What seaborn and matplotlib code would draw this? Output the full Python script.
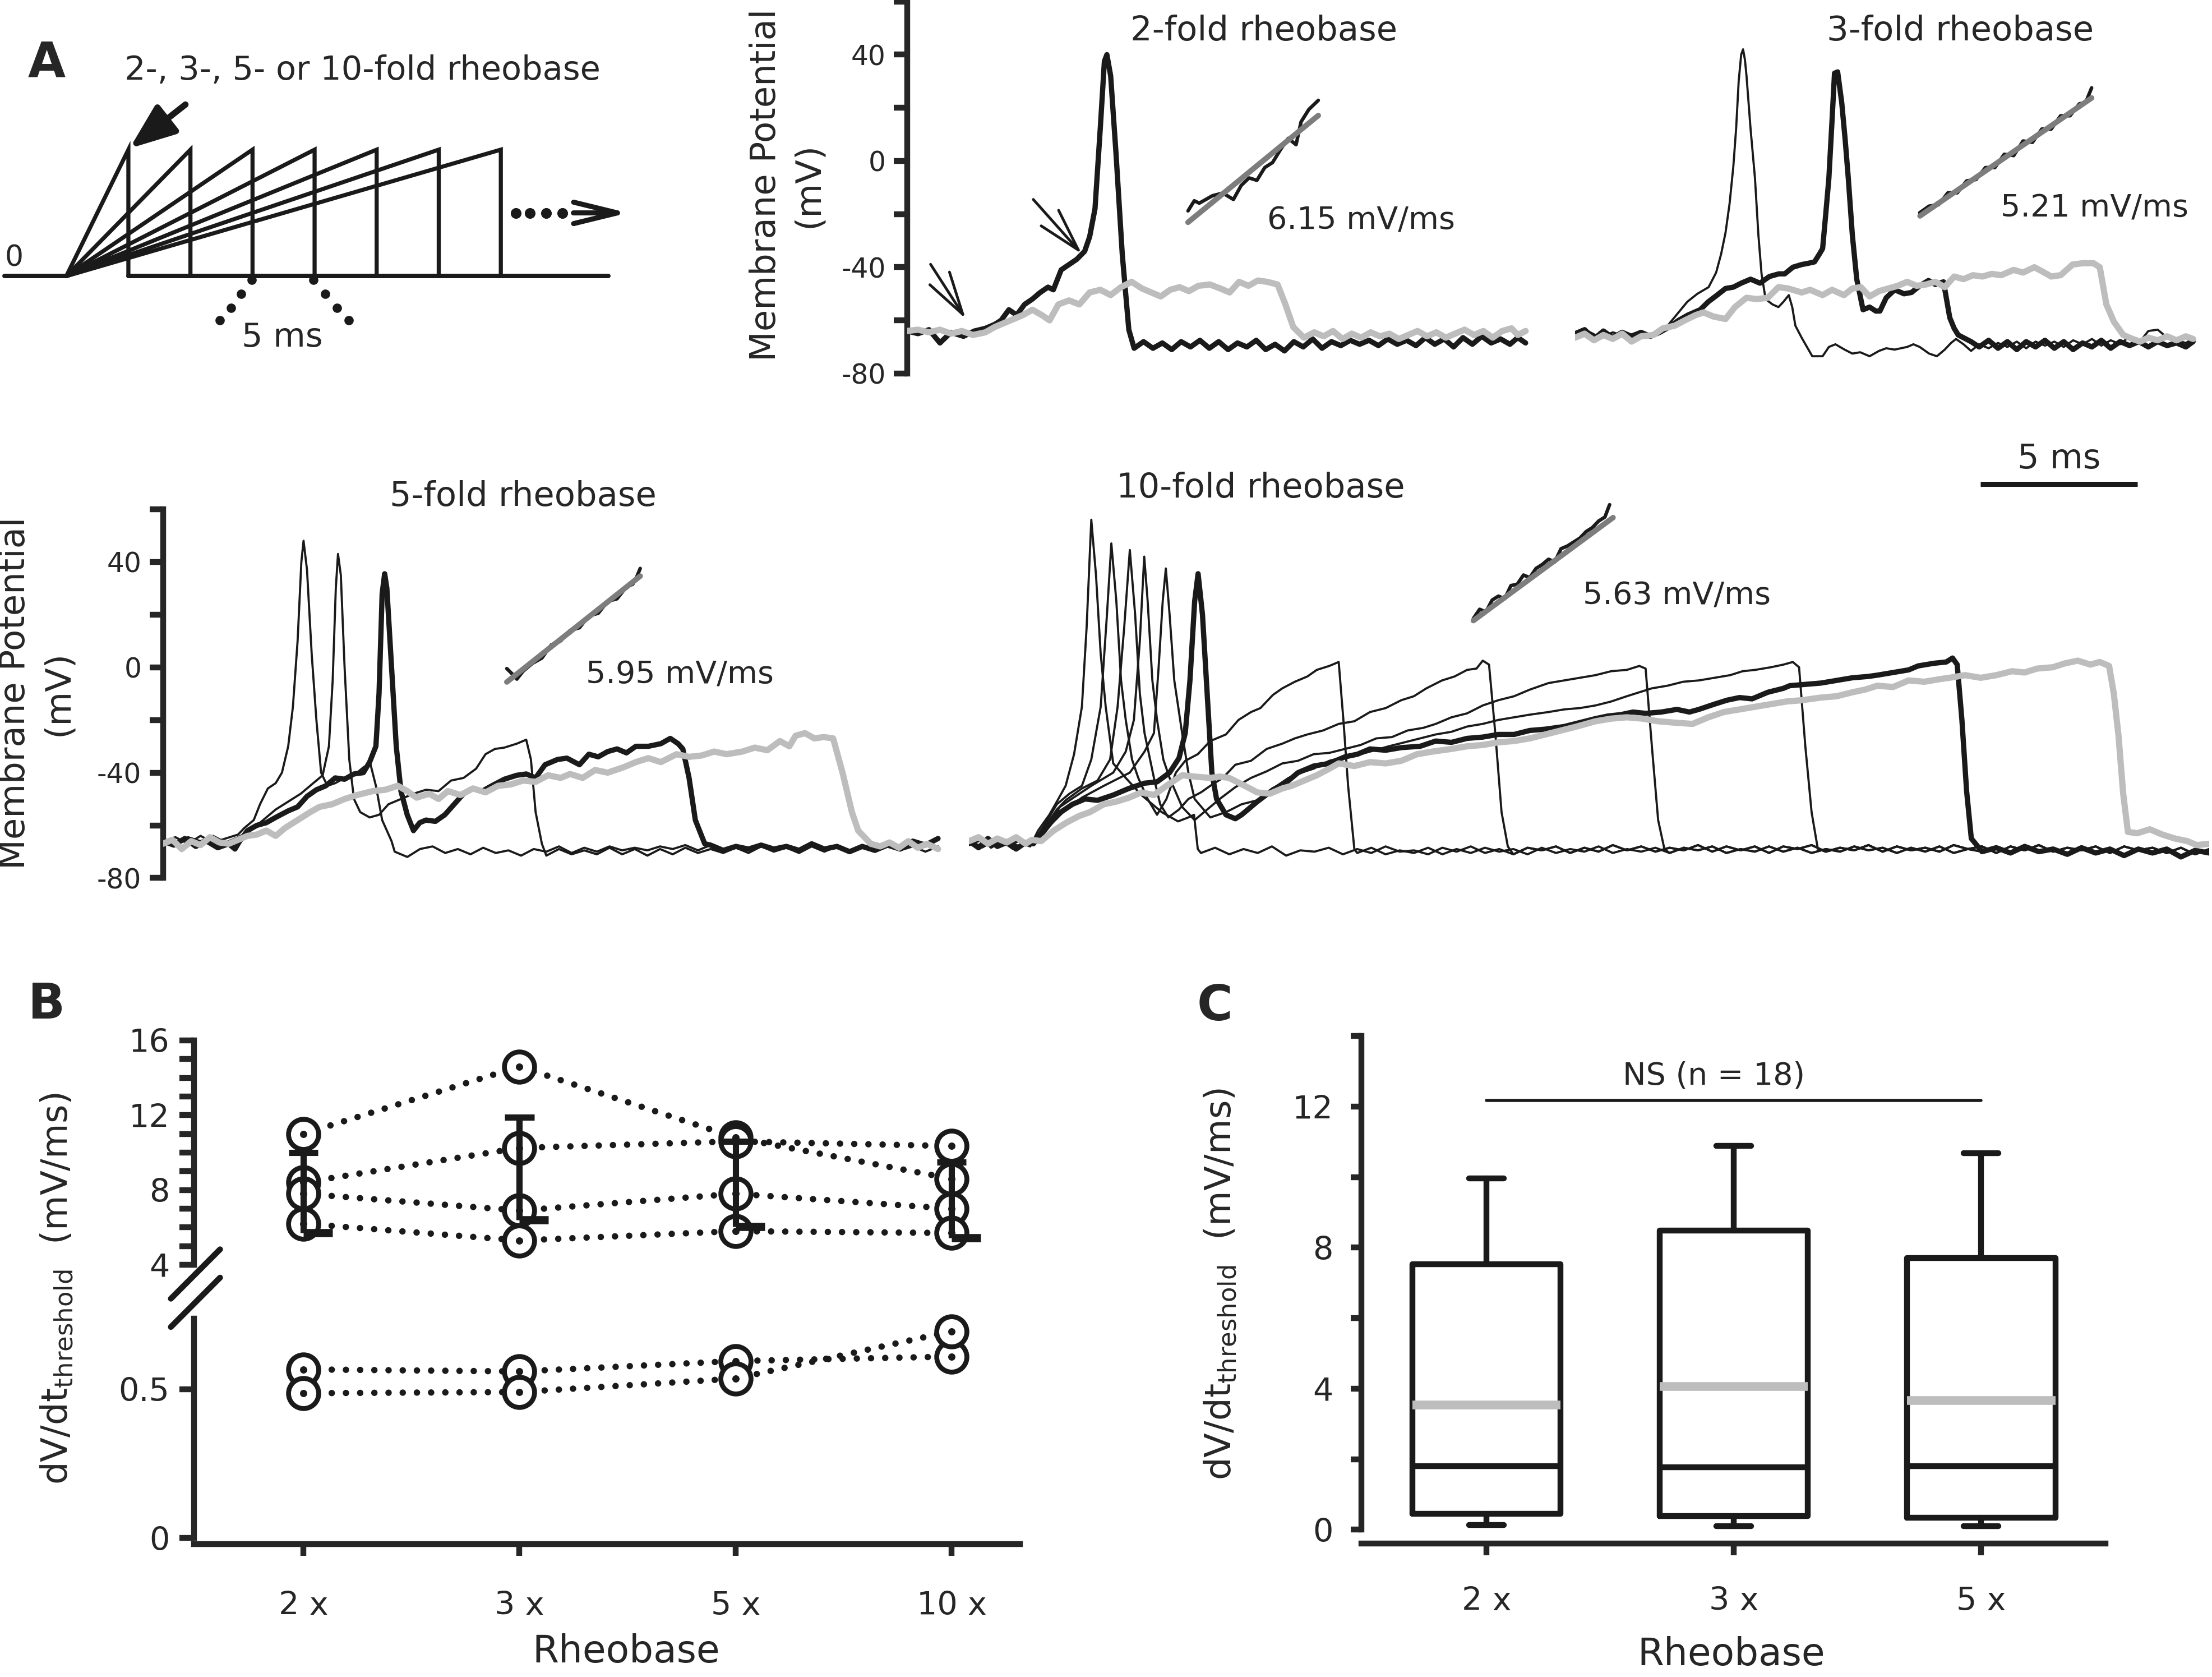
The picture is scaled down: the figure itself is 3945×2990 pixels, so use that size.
import numpy as np
import pandas as pd
import matplotlib
matplotlib.use("Agg")
import matplotlib.pyplot as plt
import seaborn as sns

sns.set_theme(style="ticks")
plt.rcParams["font.family"] = ["DejaVu Sans"]
plt.rcParams["axes.unicode_minus"] = False
plt.rcParams["mathtext.default"] = "regular"

# ---------------- A: stimulus schematic (arbitrary units) ----------------
ramp_ends = [1, 2, 3, 4, 5, 6, 7]
ramp_amp = 1.0
pre_start, post_end = -1.0, 8.73
more_dots_x = [7.24, 7.47, 7.73, 7.99]
dots_left = [(2.99, -0.03), (2.82, -0.14), (2.65, -0.25), (2.47, -0.35)]
dots_right = [(3.98, -0.03), (4.17, -0.14), (4.36, -0.25), (4.55, -0.35)]

# ---------------- A: traces, (time ms, membrane potential mV) ----------------
two_bold = [(0, -64), (0.35, -65), (0.7, -63.5), (1.05, -68.5), (1.4, -64.5), (1.8, -66), (2.15, -64),
            (2.5, -63), (2.8, -61.5), (3.0, -60), (3.25, -56), (3.5, -58), (3.75, -54), (4.0, -52),
            (4.25, -49.5), (4.5, -47.5), (4.67, -48.5), (4.92, -41), (5.17, -39), (5.42, -37),
            (5.67, -34), (5.83, -28.5), (6.0, -18), (6.17, 12.5), (6.3, 37.5), (6.38, 40), (6.5, 32),
            (6.67, 3), (6.87, -35), (7.08, -63.5), (7.25, -70.5), (7.55, -68), (7.85, -70.5),
            (8.15, -68.5), (8.45, -71), (8.75, -68), (9.05, -70), (9.35, -67.5), (9.65, -70.5),
            (9.95, -68), (10.25, -71), (10.55, -68.5), (10.85, -70), (11.15, -67.5), (11.45, -71),
            (11.75, -69), (12.05, -71.5), (12.35, -68), (12.65, -70), (12.95, -67), (13.25, -70.5),
            (13.55, -68), (13.85, -69.5), (14.15, -67.5), (14.45, -69), (14.75, -67.5), (15.05, -69.5),
            (15.35, -67), (15.65, -69), (15.95, -67.5), (16.25, -69.5), (16.55, -66.5), (16.85, -69),
            (17.15, -67), (17.45, -70), (17.75, -66.5), (18.05, -69), (18.35, -66), (18.65, -68.5),
            (18.95, -67), (19.25, -69), (19.5, -66.5), (19.75, -68.5)]
two_gray = [(0, -64), (0.35, -63.5), (0.7, -64.5), (1.05, -63.5), (1.4, -65), (1.75, -64), (2.1, -65.5),
            (2.5, -64.5), (2.8, -62.5), (3.1, -61), (3.4, -59.5), (3.7, -58), (4.0, -56), (4.3, -58),
            (4.55, -60), (4.83, -54), (5.17, -52.5), (5.5, -54), (5.83, -49.5), (6.17, -48.5),
            (6.5, -50.5), (6.83, -47.5), (7.17, -45.5), (7.5, -48), (7.8, -49.5), (8.1, -51),
            (8.4, -48.5), (8.7, -47.5), (9.0, -49), (9.3, -47), (9.67, -46.5), (10.0, -48),
            (10.3, -49.5), (10.6, -45.5), (10.9, -47), (11.2, -45), (11.5, -45.5), (11.83, -46.5),
            (12.08, -54), (12.33, -62.5), (12.67, -66.5), (13.0, -64.5), (13.3, -66), (13.6, -64),
            (13.9, -67), (14.2, -65), (14.5, -66.5), (14.8, -64.5), (15.1, -66), (15.4, -65),
            (15.7, -67), (16.0, -65.5), (16.3, -64), (16.6, -66), (16.9, -64.5), (17.2, -66.5),
            (17.5, -65), (17.8, -63.5), (18.1, -65.5), (18.4, -64), (18.7, -66.5), (19.0, -64),
            (19.3, -63), (19.5, -65.5), (19.75, -64)]
two_slope = [(8.97, -18.8), (9.17, -15), (9.33, -15.9), (9.75, -13.1), (10.08, -12.1), (10.42, -14.5),
             (10.67, -9.2), (10.92, -6.4), (11.17, -7.3), (11.42, -2.5), (11.67, -0.6), (11.92, 4.2),
             (12.17, 8.5), (12.42, 6.1), (12.58, 14.7), (12.83, 19.4), (13.13, 22.8)]
two_fit = [(8.97, -23.1), (13.13, 17.1)]
two_arrows = [((0.75, -38.9), (1.87, -59.4)), ((4.03, -14.5), (5.58, -35.0))]

three_thin = [(0, -65.5), (0.4, -64), (0.8, -66.5), (1.2, -64.5), (1.6, -66), (2.0, -64.5), (2.4, -65.5),
              (2.7, -63), (2.95, -62), (3.3, -57), (3.58, -53), (3.9, -50), (4.26, -47.5), (4.5, -42),
              (4.66, -35), (4.8, -27), (4.93, -16), (5.05, -2), (5.14, 12.5), (5.22, 30), (5.3, 40),
              (5.36, 42), (5.42, 38), (5.47, 32), (5.6, 12), (5.74, -6.5), (5.85, -28), (5.95, -42.5),
              (6.08, -52), (6.3, -54), (6.49, -55), (6.65, -53), (6.82, -50.5), (6.93, -55), (7.03, -62),
              (7.23, -66.5), (7.57, -73.5), (7.9, -73.5), (8.1, -70), (8.31, -69), (8.6, -71),
              (8.85, -72.5), (9.1, -72), (9.4, -73.5), (9.7, -71.5), (9.93, -70.5), (10.2, -71),
              (10.6, -70), (10.8, -69), (11.0, -70), (11.3, -72.5), (11.55, -73.5), (11.8, -71),
              (12.0, -68.5), (12.16, -67), (12.4, -69), (12.64, -71.5), (12.9, -69), (13.2, -70.5),
              (13.5, -68.5), (13.8, -70), (14.1, -68), (14.4, -70.5), (14.7, -68), (15.0, -69.5),
              (15.3, -68), (15.6, -70), (15.9, -67.5), (16.2, -69), (16.5, -67), (16.8, -69.5),
              (17.1, -67.5), (17.4, -69), (17.7, -66), (18.0, -68.5), (18.3, -64), (18.6, -63.5),
              (18.9, -66.5), (19.2, -67.5), (19.5, -68.5), (19.7, -67)]
three_bold = [(0, -65), (0.3, -63.5), (0.6, -67), (0.9, -64), (1.2, -66.5), (1.5, -64.5), (1.8, -66),
              (2.1, -64.5), (2.4, -66), (2.7, -64.5), (3.0, -62.5), (3.3, -60), (3.6, -58), (3.99, -56),
              (4.25, -53), (4.53, -50.5), (4.8, -48), (5.05, -47.5), (5.3, -46), (5.6, -44.5), (5.9, -46),
              (6.2, -43.5), (6.5, -42.5), (6.69, -42.5), (6.95, -40), (7.23, -39), (7.45, -38.5),
              (7.64, -38), (7.8, -35), (7.9, -33), (8.0, -20), (8.1, -6.5), (8.2, 15), (8.28, 33),
              (8.38, 33.5), (8.51, 22), (8.62, 8), (8.72, -6.5), (8.85, -28), (8.99, -44.5),
              (9.19, -56), (9.4, -55), (9.6, -56.5), (9.73, -56.5), (9.93, -51.5), (10.2, -48.5),
              (10.5, -50), (10.74, -49.5), (11.0, -47), (11.28, -45), (11.5, -46.5), (11.76, -45.5),
              (11.96, -59), (12.1, -63), (12.23, -65.5), (12.64, -68), (12.9, -70), (13.2, -67.5),
              (13.5, -70.5), (13.8, -68), (14.1, -71), (14.4, -68), (14.7, -70), (15.0, -67.5),
              (15.3, -70.5), (15.6, -68), (15.9, -71), (16.2, -68.5), (16.5, -70), (16.8, -67.5),
              (17.1, -70.5), (17.4, -68), (17.7, -69.5), (18.0, -68), (18.3, -70), (18.6, -68),
              (18.9, -69.5), (19.2, -68.5), (19.5, -70), (19.73, -68)]
three_gray = [(0, -66.5), (0.3, -65), (0.6, -67.5), (0.9, -65.5), (1.2, -67), (1.5, -65), (1.8, -68),
              (2.1, -66), (2.5, -65.5), (2.8, -63), (3.18, -62), (3.5, -60), (3.85, -58), (4.1, -57),
              (4.4, -58.5), (4.8, -59.5), (5.1, -55), (5.47, -51.5), (5.8, -52), (6.15, -51.5),
              (6.49, -47.5), (6.8, -48), (7.23, -49.5), (7.5, -48.5), (7.9, -50.5), (8.2, -48.5),
              (8.58, -50.5), (8.85, -48), (9.12, -47.5), (9.4, -51), (9.7, -49), (10.0, -48),
              (10.3, -47), (10.6, -45.5), (10.9, -47), (11.2, -46.5), (11.5, -45.5), (11.8, -47.5),
              (12.1, -43.5), (12.4, -44.5), (12.7, -43), (13.0, -43.5), (13.3, -42.5), (13.6, -43),
              (14.0, -41), (14.3, -42), (14.66, -40), (14.9, -41.5), (15.2, -43.5), (15.5, -43),
              (15.88, -39), (16.2, -38.5), (16.55, -38.5), (16.75, -40), (16.96, -54), (17.2, -60.5),
              (17.5, -65.5), (17.8, -67), (18.04, -68), (18.3, -66.5), (18.6, -67.5), (18.9, -66),
              (19.2, -67.5), (19.5, -66), (19.73, -67)]
three_slope = [(11.0, -19.5), (11.3, -17), (11.6, -16.5), (11.9, -12), (12.2, -12), (12.5, -7.5),
               (12.8, -7), (13.1, -2.5), (13.4, -2.5), (13.7, 2.5), (14.0, 2), (14.3, 7.5), (14.6, 7),
               (14.9, 12), (15.2, 12), (15.5, 17), (15.8, 17), (16.1, 21.5), (16.3, 22), (16.49, 27.5)]
three_fit = [(11.01, -20.7), (16.49, 23.7)]

# 5-fold rheobase
five_thin1 = [(0, -66), (0.4, -64.5), (0.8, -67), (1.2, -64), (1.6, -66.5), (2.0, -65), (2.4, -63.5),
              (2.6, -61), (2.9, -58), (3.1, -52), (3.35, -46), (3.6, -44), (3.8, -40), (4.0, -30),
              (4.15, -15), (4.3, 10), (4.42, 40), (4.49, 48), (4.6, 37), (4.75, 5), (4.9, -20),
              (5.05, -40), (5.25, -45), (5.5, -44), (5.8, -42), (6.1, -41), (6.4, -38), (6.62, -36.5),
              (6.8, -45), (7.0, -58), (7.3, -66)]
five_thin2 = [(0, -65.5), (0.4, -67), (0.8, -64.5), (1.2, -66), (1.6, -64), (2.0, -66.5), (2.4, -64.5),
              (2.8, -62), (3.2, -58), (3.6, -54), (4.0, -51), (4.4, -48), (4.8, -44), (5.1, -41),
              (5.3, -30), (5.42, -5), (5.52, 30), (5.59, 43), (5.68, 35), (5.8, 0), (5.95, -35),
              (6.1, -50), (6.3, -55), (6.6, -57), (6.9, -56), (7.2, -52), (7.6, -50), (8.0, -48),
              (8.4, -46.5), (8.8, -47), (9.2, -43), (9.6, -42), (10.0, -38.5), (10.3, -33),
              (10.6, -31), (10.9, -30.5), (11.3, -29), (11.6, -27.5), (11.75, -35), (11.9, -55),
              (12.1, -67)]
five_bold = [(0, -66), (0.35, -67.5), (0.7, -65), (1.05, -68), (1.4, -66), (1.75, -68.5), (2.1, -67),
             (2.3, -69), (2.45, -66), (2.7, -62), (3.0, -60), (3.3, -59), (3.6, -57), (4.0, -54.5),
             (4.3, -53), (4.6, -49), (4.9, -46.5), (5.2, -45), (5.5, -42), (5.8, -42.5), (6.1, -40.5),
             (6.4, -40), (6.6, -36), (6.8, -30), (6.9, -10), (7.0, 28), (7.08, 35.5), (7.15, 30),
             (7.3, 0), (7.45, -30), (7.6, -47), (7.8, -56), (8.0, -62), (8.2, -59), (8.4, -58),
             (8.7, -58.5), (9.0, -56), (9.3, -52), (9.6, -48), (9.9, -46), (10.2, -47), (10.5, -45),
             (10.9, -42.5), (11.3, -41), (11.6, -40.5), (11.9, -42), (12.2, -37), (12.6, -35),
             (12.9, -34.5), (13.3, -37), (13.6, -33), (13.9, -34), (14.2, -32), (14.5, -31),
             (14.8, -32.5), (15.1, -30), (15.5, -30), (15.9, -29), (16.2, -27), (16.45, -29),
             (16.6, -31), (16.8, -42), (17.0, -58), (17.3, -67)]
five_gray = [(0, -67), (0.3, -65.5), (0.6, -69), (0.9, -66), (1.2, -67.5), (1.5, -64.5), (1.8, -66.5),
             (2.1, -67), (2.4, -65.5), (2.7, -64), (3.0, -63.5), (3.3, -62), (3.6, -64), (3.9, -61),
             (4.3, -58), (4.7, -55), (5.0, -53), (5.4, -52), (5.8, -50), (6.2, -48.5), (6.7, -47),
             (7.1, -46.5), (7.5, -45), (7.8, -47), (8.1, -49.5), (8.5, -48), (8.8, -50), (9.1, -47),
             (9.5, -48.5), (9.9, -46), (10.3, -47.5), (10.7, -45), (11.1, -44.5), (11.5, -43),
             (11.9, -43.5), (12.3, -41), (12.7, -42), (13.0, -40.5), (13.4, -42), (13.8, -39),
             (14.2, -40), (14.7, -38), (15.1, -36), (15.5, -34.5), (15.9, -36), (16.4, -33),
             (16.8, -34), (17.2, -33.5), (17.6, -32), (18.0, -33), (18.5, -32), (18.9, -30.5),
             (19.3, -31.5), (19.7, -28), (20.0, -30), (20.2, -26), (20.5, -25), (20.8, -27),
             (21.1, -26.5), (21.4, -27), (21.7, -40), (22.0, -55), (22.2, -62), (22.6, -67),
             (22.9, -68), (23.2, -66.5), (23.5, -68.5), (23.8, -66), (24.1, -68.5), (24.4, -67),
             (24.75, -69)]
five_tail_a = [-70, -72, -69, -68, -70.5, -69, -71, -68.5, -70.5, -69.5, -71.5, -69, -70, -68, -70.5,
               -68.5, -70, -68, -69.5, -68.5, -69.5, -68, -69, -67.5, -69.5, -67.5, -69.5, -68, -69,
               -67.5, -69, -68, -69.5, -67, -69, -68, -70, -68, -69.5, -67.5, -69, -66, -67.5, -65]
five_tail_b = [-71, -69.5, -71.5, -70, -71, -68.5, -71.5, -69, -71, -69.5, -71, -68.5, -71.5, -69, -71,
               -69.5, -71, -68.5, -71, -69, -71.5, -69, -71, -68.5, -70.5, -69, -70.5, -68.5, -70.5,
               -68, -70, -68.5, -70.5, -68, -70, -68, -69.5, -68, -70, -67.5, -69.5, -68, -70, -68]
five_slope = [(10.98, -0.5), (11.15, -2.5), (11.3, -4.5), (11.5, -1.5), (11.8, 1.5), (12.1, 3.5),
              (12.4, 8.5), (12.7, 10), (13.0, 14), (13.3, 15), (13.6, 19.5), (13.9, 20.5), (14.2, 25),
              (14.5, 26), (14.8, 30.5), (15.0, 31.5), (15.1, 33.5), (15.24, 37.5)]
five_fit = [(10.98, -5.6), (15.24, 34.6)]

# 10-fold rheobase
ten_thin1 = [(0, -67), (0.35, -65), (0.7, -68.5), (1.05, -66), (1.4, -69), (1.7, -67), (1.95, -68),
             (2.2, -62), (2.56, -56), (2.8, -51), (3.08, -45), (3.35, -33), (3.6, -15), (3.75, 15),
             (3.9, 56), (4.05, 35), (4.2, 5), (4.36, -15), (4.6, -36.5), (5.0, -42), (5.5, -48.5),
             (6.15, -55), (6.67, -58.5), (7.0, -57), (7.18, -56), (7.3, -69)]
ten_thin2 = [(0, -66), (0.4, -68), (0.8, -65.5), (1.2, -67.5), (1.6, -66), (2.0, -67), (2.4, -60),
             (2.8, -52), (3.2, -48), (3.6, -45), (3.9, -35), (4.2, -15), (4.4, 20), (4.54, 47),
             (4.7, 25), (4.85, -5), (5.0, -20), (5.2, -35), (5.4, -42), (5.7, -50), (6.0, -56),
             (6.3, -50), (6.6, -40), (6.9, -35.5), (7.3, -33), (7.7, -28), (8.2, -25.5), (8.6, -20),
             (9.0, -17), (9.3, -15.5), (9.7, -10.5), (10.0, -8), (10.4, -5.5), (10.8, -3.5),
             (11.1, -1), (11.5, 0.5), (11.8, 2), (11.95, -20), (12.1, -45), (12.3, -69)]
ten_thin3 = [(0, -67.5), (0.4, -65.5), (0.8, -68), (1.2, -66), (1.6, -68.5), (2.0, -66), (2.4, -61),
             (2.8, -54), (3.08, -50.5), (3.6, -46), (4.1, -43), (4.5, -35), (4.74, -15), (4.95, 15),
             (5.13, 44.5), (5.3, 20), (5.45, -10), (5.6, -25), (5.9, -42), (6.1, -52), (6.36, -57),
             (6.7, -54), (7.0, -50), (7.4, -47.5), (7.7, -45), (8.1, -42), (8.5, -37), (9.0, -35.5),
             (9.5, -31), (10.0, -29), (10.4, -27), (10.8, -25.5), (11.3, -24), (11.8, -21.5),
             (12.3, -20.5), (12.8, -17), (13.3, -15.5), (13.8, -12.5), (14.2, -11), (14.6, -8),
             (15.1, -5), (15.5, -3.5), (15.9, -1), (16.2, -0.5), (16.4, 2.5), (16.6, 1), (16.8, -25),
             (17.0, -55), (17.2, -68)]
ten_thin4 = [(0, -66.5), (0.4, -68.5), (0.8, -66), (1.2, -67), (1.6, -65.5), (2.0, -67.5), (2.5, -60),
             (2.9, -53), (3.33, -49.5), (3.9, -45), (4.6, -40), (5.0, -32), (5.26, -20), (5.45, 10),
             (5.59, 42), (5.7, 25), (5.85, -5), (6.0, -20), (6.2, -35), (6.4, -42), (6.8, -53),
             (7.2, -58), (7.6, -54), (8.0, -50), (8.5, -45.5), (9.0, -42), (9.5, -39.5), (10.0, -36.5),
             (10.5, -35.5), (11.0, -33), (11.5, -32.5), (12.0, -31), (12.5, -29.5), (13.0, -27),
             (13.5, -26.5), (14.0, -24), (14.5, -23), (14.9, -21.5), (15.4, -19), (15.9, -17.5),
             (16.4, -14.5), (16.9, -12.5), (17.4, -11), (17.9, -8.5), (18.5, -6), (19.0, -5),
             (19.5, -4), (20.0, -3), (20.5, -1.5), (21.0, -1), (21.4, 0.5), (21.6, -0.5), (21.8, -30),
             (22.0, -58), (22.2, -69)]
ten_thin5 = [(0, -67), (0.4, -65), (0.8, -67.5), (1.2, -65.5), (1.6, -68), (2.0, -66.5), (2.5, -61),
             (3.0, -55), (3.6, -49.5), (4.3, -45), (5.13, -40), (5.6, -32), (5.9, -25), (6.05, 0),
             (6.18, 25), (6.28, 37.5), (6.4, 20), (6.55, -5), (6.8, -25), (7.0, -40), (7.2, -50),
             (7.7, -57), (8.2, -55), (8.7, -52), (9.2, -50.5), (9.7, -46), (10.2, -42), (10.6, -40),
             (11.0, -38.5), (11.5, -35.5), (12.0, -34), (12.5, -33), (12.8, -32), (13.4, -30),
             (13.9, -28.5), (14.4, -27), (14.9, -25.5), (15.4, -24.5), (15.9, -22.5), (16.4, -21.5),
             (16.9, -20), (17.4, -19), (17.9, -18), (18.5, -17), (19.0, -16), (19.5, -15.5),
             (20.0, -14.5), (20.5, -13), (21.0, -11), (21.4, -9.5), (21.8, -8), (22.3, -7),
             (22.8, -5.5), (23.3, -5), (23.8, -4), (24.3, -3), (24.7, -1.5), (25.1, -1), (25.6, 0),
             (26.0, 1), (26.3, 2), (26.5, 0), (26.7, -30), (26.9, -55), (27.1, -69)]
ten_bold = [(0, -66), (0.3, -68.5), (0.6, -65), (0.9, -68), (1.2, -66.5), (1.5, -69), (1.8, -66.5),
            (2.05, -67), (2.4, -62), (2.8, -56), (3.3, -52), (3.7, -50), (4.1, -50.5), (4.6, -48.5),
            (5.1, -46), (5.6, -44), (6.0, -43.5), (6.4, -40), (6.7, -34.5), (6.9, -25), (7.05, -5),
            (7.2, 25), (7.31, 35.5), (7.45, 20), (7.6, -10), (7.75, -40), (7.9, -50), (8.2, -56),
            (8.5, -57.5), (8.7, -56), (9.2, -51), (9.7, -46.5), (10.1, -44), (10.5, -40), (11.0, -37.5),
            (11.5, -36.5), (12.0, -34), (12.4, -33), (12.8, -31), (13.3, -31.5), (13.8, -30.5),
            (14.4, -30), (14.9, -28), (15.4, -28.5), (15.9, -27), (16.4, -26.5), (16.9, -25.5),
            (17.4, -25.5), (17.9, -24), (18.4, -23.5), (19.0, -22.5), (19.5, -21), (20.0, -19.5),
            (20.4, -18.5), (20.8, -18), (21.2, -17), (21.6, -17.5), (22.1, -17), (22.6, -16),
            (23.0, -17), (23.3, -16), (23.8, -14), (24.2, -12.5), (24.6, -11.5), (25.0, -12),
            (25.5, -9.5), (26.0, -8), (26.2, -7), (26.7, -6.5), (27.2, -6), (27.7, -5), (28.2, -4),
            (28.7, -3.5), (29.0, -3), (29.5, -2), (30.0, -1), (30.3, 0.5), (30.8, 1.5), (31.2, 2),
            (31.4, 3.5), (31.55, 1), (31.7, -20), (31.85, -47), (32.0, -65)]
ten_gray = [(0, -66), (0.3, -64.5), (0.6, -67), (0.9, -65), (1.2, -66.5), (1.5, -64.5), (1.8, -67),
            (2.0, -65.5), (2.3, -66), (2.7, -62), (3.1, -59), (3.5, -56.5), (3.85, -55), (4.3, -52),
            (4.7, -51), (5.1, -49.5), (5.5, -47.5), (5.9, -48.5), (6.3, -45), (6.8, -41), (7.2, -41.5),
            (7.7, -42), (8.0, -41.5), (8.3, -42), (8.8, -45), (9.2, -47.5), (9.6, -48), (10.0, -46),
            (10.3, -45), (10.7, -43), (11.1, -41), (11.5, -38.5), (11.8, -36.5), (12.3, -37.5),
            (12.8, -36), (13.3, -36.5), (13.8, -35.5), (14.3, -33), (14.8, -32), (15.4, -31),
            (15.9, -30), (16.4, -29.5), (16.9, -28.5), (17.4, -28), (17.9, -27), (18.4, -25.5),
            (18.9, -24), (19.4, -22.5), (20.0, -20.5), (20.5, -19.5), (21.0, -19), (21.5, -19.5),
            (22.0, -20.5), (22.5, -21), (23.1, -21.5), (23.6, -19), (24.1, -17), (24.6, -16),
            (25.1, -15), (25.6, -14), (26.1, -13), (26.6, -12.5), (27.2, -11.5), (27.7, -11),
            (28.2, -9.5), (28.6, -8.5), (29.0, -7), (29.5, -7.5), (30.0, -5), (30.5, -5.5), (31.0, -4.5),
            (31.3, -4), (31.8, -3), (32.3, -4), (32.8, -3), (33.3, -1.5), (33.7, -2), (34.1, -0.5),
            (34.6, 0), (35.0, 1.5), (35.4, 2.5), (35.8, 1), (36.1, 2), (36.4, 0.5), (36.55, -10),
            (36.7, -26), (36.85, -48), (37.0, -62.5), (37.3, -63), (37.7, -61.5), (38.1, -63.5),
            (38.5, -65), (38.9, -66), (39.2, -67.5), (39.6, -67)]
ten_tail_a = [-70.5, -68.5, -71, -69, -70.5, -68, -71.5, -69.5, -70, -68.5, -71, -69, -70.5, -68, -70,
              -69.5, -71, -68.5, -70, -68, -70.5, -69, -71, -68.5, -69.5, -68, -70.5, -68.5, -70, -67.5,
              -69.5, -68, -70, -68.5, -69.5, -67.5, -70, -68, -69.5, -68, -70.5, -68, -69, -67.5, -70,
              -68.5, -69.5, -67.5, -70, -68, -69.5, -68.5, -70, -67.5, -69, -68, -70.5, -68, -69.5,
              -67.5, -70, -68.5, -69.5, -68, -70.5, -68, -69.5, -68.5, -70.5, -68.5, -71, -69]
ten_tail_b = [-69, -71.5, -69.5, -72, -70, -71, -69, -72, -70, -71.5, -69.5, -70.5, -68.5, -71, -69.5,
              -70.5, -68.5, -71, -69, -70.5, -68.5, -70, -69, -71, -68.5, -70.5, -69, -70, -68, -70.5,
              -69, -70, -68.5, -70.5, -68.5, -69.5, -68, -70.5, -69, -70, -68, -70, -68.5, -70.5, -69,
              -70, -68, -69.5, -68.5, -70.5, -68.5, -70, -68, -70.5, -69, -70, -68.5, -70.5, -68, -70,
              -69, -71, -68.5, -70.5, -69, -71.5, -69, -70.5, -69, -72, -69.5, -70.5]
ten_slope = [(16.1, 18.5), (16.3, 22), (16.5, 21), (16.7, 25.5), (16.9, 27), (17.1, 26), (17.3, 31),
             (17.5, 31.5), (17.7, 35), (17.9, 34), (18.1, 37.5), (18.3, 39), (18.5, 41), (18.7, 40),
             (18.9, 45), (19.1, 46), (19.3, 47.5), (19.5, 49), (19.7, 51.5), (19.9, 53), (20.1, 55.5),
             (20.3, 57), (20.45, 61.7)]
ten_fit = [(16.1, 17.7), (20.56, 56.8)]
slope_texts = ["6.15 mV/ms", "5.21 mV/ms", "5.95 mV/ms", "5.63 mV/ms"]

# ---------------- B: dV/dt threshold per cell (mV/ms) ----------------
rheo_b = ["2 x", "3 x", "5 x", "10 x"]
cells_high = [[11.0, 14.6, 10.8, 8.6],
              [8.4, 10.25, 10.6, 10.35],
              [7.8, 6.9, 7.8, 7.0],
              [6.2, 5.3, 5.8, 5.7]]
cells_low = [[0.566, 0.559, 0.594, 0.609],
             [0.486, 0.49, 0.535, 0.694]]
sd_top = [10.0, 11.9, 10.6, 9.5]
sd_bottom = [5.7, 6.4, 6.05, 5.45]

# ---------------- C: box summary (n = 18) ----------------
rheo_c = ["2 x", "3 x", "5 x"]
c_whislo = [0.13, 0.11, 0.10]
c_q1 = [0.46, 0.39, 0.34]
c_med = [1.81, 1.78, 1.81]
c_mean = [3.54, 4.06, 3.67]
c_q3 = [7.53, 8.49, 7.70]
c_whishi = [9.96, 10.89, 10.68]

# ---------------- layout helpers ----------------
W, H = 1568, 1188


def rect(l, t, r, b):
    return [l / W, 1 - b / H, (r - l) / W, (b - t) / H]


def xy(pts):
    return [p[0] for p in pts], [p[1] for p in pts]


def with_tail(pts, tail_v, t0, t1):
    t, v = xy(pts)
    tt = np.linspace(t0, t1, len(tail_v))
    for a, b in zip(tt, tail_v):
        if a > t[-1]:
            t.append(a)
            v.append(b)
    return t, v


GRAY = "#bdbdbd"
FIT = "#7d7d7d"
LW_BOLD, LW_THIN, LW_GRAY = 2.7, 1.1, 3.2
FS_TITLE, FS_SLOPE, FS_TICK_A = 17.5, 16, 14

fig = plt.figure(figsize=(15.78, 11.96), dpi=250)
fig.patch.set_facecolor("white")

# ---- schematic ----
ax = fig.add_axes(rect(0, 20, 460, 250))
ax.set_xlim(-1.068, 9.386)
ax.set_ylim(-0.607, 1.96)
ax.axis("off")
ax.plot([pre_start, 0], [0, 0], color="k", lw=2.3)
ax.plot([ramp_ends[0], post_end], [0, 0], color="k", lw=2.3)
for e in ramp_ends:
    ax.plot([0, e, e], [0, ramp_amp, 0], color="k", lw=2.1, solid_joinstyle="miter")
ax.text(-0.84, 0.14, "0", ha="center", va="center", fontsize=15)
ax.annotate("", xy=(ramp_ends[0] + 0.02, ramp_amp + 0.01), xytext=(1.92, 1.357),
            arrowprops=dict(arrowstyle="-|>,head_length=0.9,head_width=0.35", lw=3.2, color="k",
                            mutation_scale=22, shrinkA=0, shrinkB=0))
ax.text(4.77, 1.625, "2-, 3-, 5- or 10-fold rheobase", ha="center", va="center", fontsize=17)
ax.plot(more_dots_x, [0.5] * len(more_dots_x), "o", color="k", ms=4.5)
ax.annotate("", xy=(9.05, 0.5), xytext=(8.17, 0.5),
            arrowprops=dict(arrowstyle="->,head_length=0.9,head_width=0.22", lw=2.6, color="k",
                            mutation_scale=25, shrinkA=0, shrinkB=0))
ax.plot(*xy(dots_left), "o", color="k", ms=3.8)
ax.plot(*xy(dots_right), "o", color="k", ms=3.8)
ax.text(3.48, -0.484, "5 ms", ha="center", va="center", fontsize=17)


def trace_axes(l, t, r, b, xmax, spine):
    a = fig.add_axes(rect(l, t, r, b))
    a.set_xlim(0, xmax)
    a.set_ylim(-80, 60)
    a.patch.set_alpha(0)
    if spine:
        sns.despine(ax=a, bottom=True)
        a.spines["left"].set_linewidth(3)
        a.set_xticks([])
        a.set_yticks([-80, -40, 0, 40])
        a.set_yticklabels(["-80", "-40", "0", "40"])
        a.set_yticks([-60, -20, 20, 60], minor=True)
        a.tick_params(axis="y", which="both", direction="out", length=7, width=3,
                      labelsize=FS_TICK_A, pad=4)
    else:
        a.axis("off")
    return a


ax2 = trace_axes(643, 1.05, 1087, 264.6, 20, True)
ax3 = trace_axes(1116.6, 1.05, 1560.6, 264.6, 20, False)
ax5 = trace_axes(115.5, 360.7, 670.5, 622, 25, True)
ax10 = trace_axes(687, 360.7, 1566.1, 622, 39.6, False)

# 2-fold
ax2.plot(*xy(two_bold), color="k", lw=LW_BOLD, zorder=2)
ax2.plot(*xy(two_gray), color=GRAY, lw=LW_GRAY, zorder=3)
ax2.plot(*xy(two_slope), color="k", lw=1.8, zorder=4)
ax2.plot(*xy(two_fit), color=FIT, lw=2.8, zorder=5, solid_capstyle="round")
for tail, tip in two_arrows:
    ax2.annotate("", xy=tip, xytext=tail,
                 arrowprops=dict(arrowstyle="->,head_length=1.1,head_width=0.3", lw=1.4, color="k",
                                 mutation_scale=20, shrinkA=0, shrinkB=0))
ax2.text(11.4, 48.9, "2-fold rheobase", ha="center", va="center", fontsize=FS_TITLE)
ax2.text(14.5, -22.6, slope_texts[0], ha="center", va="center", fontsize=FS_SLOPE)

# 3-fold
ax3.plot(*xy(three_thin), color="k", lw=LW_THIN, zorder=1)
ax3.plot(*xy(three_bold), color="k", lw=LW_BOLD, zorder=2)
ax3.plot(*xy(three_gray), color=GRAY, lw=LW_GRAY, zorder=3)
ax3.plot(*xy(three_slope), color="k", lw=1.8, zorder=4)
ax3.plot(*xy(three_fit), color=FIT, lw=2.8, zorder=5, solid_capstyle="round")
ax3.text(12.3, 48.9, "3-fold rheobase", ha="center", va="center", fontsize=FS_TITLE)
ax3.text(16.58, -17.8, slope_texts[1], ha="center", va="center", fontsize=FS_SLOPE)

# 5-fold
ax5.plot(*with_tail(five_thin1, five_tail_a, 7.4, 24.75), color="k", lw=LW_THIN, zorder=1)
ax5.plot(*with_tail(five_thin2, five_tail_b, 7.4, 24.75), color="k", lw=LW_THIN, zorder=1)
ax5.plot(*with_tail(five_bold, five_tail_a, 7.4, 24.75), color="k", lw=LW_BOLD, zorder=2)
ax5.plot(*xy(five_gray), color=GRAY, lw=LW_GRAY, zorder=3)
ax5.plot(*xy(five_slope), color="k", lw=1.8, zorder=4)
ax5.plot(*xy(five_fit), color=FIT, lw=2.8, zorder=5, solid_capstyle="round")
ax5.text(11.5, 64.7, "5-fold rheobase", ha="center", va="center", fontsize=FS_TITLE, clip_on=False)
ax5.text(16.5, -2.9, slope_texts[2], ha="center", va="center", fontsize=FS_SLOPE)

# 10-fold
for pts, tail in [(ten_thin1, ten_tail_a), (ten_thin2, ten_tail_b), (ten_thin3, ten_tail_a),
                  (ten_thin4, ten_tail_b), (ten_thin5, ten_tail_a)]:
    ax10.plot(*with_tail(pts, tail, 7.4, 39.6), color="k", lw=LW_THIN, zorder=1)
ax10.plot(*with_tail(ten_bold, ten_tail_b, 7.4, 39.6), color="k", lw=LW_BOLD, zorder=2)
ax10.plot(*xy(ten_gray), color=GRAY, lw=LW_GRAY, zorder=3)
ax10.plot(*xy(ten_slope), color="k", lw=1.8, zorder=4, clip_on=False)
ax10.plot(*xy(ten_fit), color=FIT, lw=2.8, zorder=5, solid_capstyle="round", clip_on=False)
ax10.text(9.3, 68.0, "10-fold rheobase", ha="center", va="center", fontsize=FS_TITLE, clip_on=False)
ax10.text(22.6, 27.0, slope_texts[3], ha="center", va="center", fontsize=FS_SLOPE)
# 5 ms scale bar
ax10.plot([32.3, 37.3], [69.5, 69.5], color="k", lw=2.6, clip_on=False, solid_capstyle="butt")
ax10.text(34.8, 79.0, "5 ms", ha="center", va="center", fontsize=17.5, clip_on=False)

for cx, cy in [(558, 131), (26, 491)]:
    fig.text(cx / W, 1 - cy / H, "Membrane Potential\n(mV)", rotation=90, ha="center", va="center",
             fontsize=18, linespacing=1.35, multialignment="center")

# ---- B ----
def long_form(rows):
    recs = [(i, j, v) for i, row in enumerate(rows) for j, v in enumerate(row)]
    return pd.DataFrame(recs, columns=["cell", "pos", "val"])


axBu = fig.add_axes(rect(137.5, 737, 723, 896))
axBl = fig.add_axes(rect(137.5, 934, 723, 1089.5))
dot_ls = (0, (0.01, 2.2))
for a, rows in [(axBu, cells_high), (axBl, cells_low)]:
    df = long_form(rows)
    sns.lineplot(data=df, x="pos", y="val", units="cell", estimator=None, color="k", lw=3.3,
                 linestyle=dot_ls, dash_capstyle="round", ax=a, legend=False, zorder=1)
    sns.scatterplot(data=df, x="pos", y="val", s=240, color="white", edgecolor="k", linewidth=2.5,
                    ax=a, legend=False, zorder=3, clip_on=False)
    sns.scatterplot(data=df, x="pos", y="val", s=14, color="k", edgecolor="k", linewidth=0,
                    ax=a, legend=False, zorder=4, clip_on=False)
    a.set_xlim(-0.506, 3.316)
    a.set_xlabel("")
    a.set_ylabel("")
    a.patch.set_alpha(0)

pos_b = np.arange(len(rheo_b))
axBu.vlines(pos_b, sd_bottom, sd_top, color="k", lw=3.2, zorder=5)
axBu.hlines(sd_top, pos_b - 0.068, pos_b + 0.068, color="k", lw=3.2, zorder=5)
axBu.hlines(sd_bottom, pos_b, pos_b + 0.135, color="k", lw=4.2, zorder=5)

axBu.set_ylim(4, 16)
sns.despine(ax=axBu, bottom=True)
axBu.spines["left"].set_linewidth(3)
axBu.set_xticks([])
axBu.set_yticks([4, 8, 12, 16])
axBu.set_yticklabels(["4", "8", "12", "16"])
axBu.set_yticks([5, 6, 7, 9, 10, 11, 13, 14, 15], minor=True)
axBu.tick_params(axis="y", which="both", direction="out", length=7.5, width=3, labelsize=16.5, pad=5)

axBl.set_ylim(0, 0.737)
sns.despine(ax=axBl)
axBl.spines["left"].set_linewidth(3)
axBl.spines["bottom"].set_linewidth(3)
axBl.spines["bottom"].set_position(("outward", 3))
axBl.set_yticks([0, 0.5])
axBl.set_yticklabels(["0", "0.5"])
axBl.set_xticks(pos_b)
axBl.set_xticklabels(rheo_b)
axBl.tick_params(axis="y", direction="out", length=7.5, width=3, labelsize=16.5, pad=5)
axBl.tick_params(axis="x", direction="out", length=6, width=3, labelsize=16.5, pad=18)
axBl.set_xlabel("Rheobase", fontsize=19.5)
axBl.xaxis.set_label_coords(0.523, (1089.5 - 1170) / 155.5)
axBl.xaxis.label.set_va("center")

# axis break marks
for y0 in (-0.151, -0.277):
    axBu.plot([-0.028, 0.0316], [y0, y0 + 0.22], color="k", lw=3, transform=axBu.transAxes,
              clip_on=False)

# ---- C ----
axC = fig.add_axes(rect(965, 733.9, 1492.5, 1083.7))
stats = [dict(whislo=c_whislo[i], q1=c_q1[i], med=c_med[i], mean=c_mean[i], q3=c_q3[i],
              whishi=c_whishi[i], fliers=[]) for i in range(len(rheo_c))]
pos_c = np.arange(len(rheo_c))
axC.bxp(stats, positions=pos_c, widths=0.6, capwidths=0.14, showmeans=True, meanline=True,
        showfliers=False, manage_ticks=False,
        boxprops=dict(color="k", linewidth=3), whiskerprops=dict(color="k", linewidth=3),
        capprops=dict(color="k", linewidth=3), medianprops=dict(color="k", linewidth=3),
        meanprops=dict(color=GRAY, linewidth=4.5, linestyle="-"))
axC.set_xlim(-0.506, 2.503)
axC.set_ylim(0, 14)
sns.despine(ax=axC)
axC.spines["left"].set_linewidth(3)
axC.spines["bottom"].set_linewidth(3)
axC.spines["bottom"].set_position(("outward", 7))
axC.set_yticks([0, 4, 8, 12])
axC.set_yticklabels(["0", "4", "8", "12"])
axC.set_yticks([2, 6, 10, 14], minor=True)
axC.set_xticks(pos_c)
axC.set_xticklabels(rheo_c)
axC.tick_params(axis="y", which="both", direction="out", length=5.5, width=3, labelsize=16.5, pad=9)
axC.tick_params(axis="x", direction="out", length=6, width=3, labelsize=16.5, pad=16)
axC.set_xlabel("Rheobase", fontsize=19.5)
axC.xaxis.set_label_coords(0.497, (1083.7 - 1172) / 349.8)
axC.xaxis.label.set_va("center")
axC.patch.set_alpha(0)
axC.plot([pos_c[0], pos_c[-1]], [12.18, 12.18], color="k", lw=1.6)
axC.text(0.92, 12.86, "NS (n = 18)", ha="center", va="center", fontsize=16)

ylab = "dV/dt$_{threshold}$  (mV/ms)"
fig.text(40 / W, 1 - 912.7 / H, ylab, rotation=90, ha="center", va="center", fontsize=18.5)
fig.text(865 / W, 1 - 909.5 / H, ylab, rotation=90, ha="center", va="center", fontsize=18.5)

# panel letters
for lab, cx, cy in [("A", 33, 45), ("B", 33, 712), ("C", 861, 713)]:
    fig.text(cx / W, 1 - cy / H, lab, fontsize=25, fontweight="bold", ha="center", va="center")

fig.savefig("out.png", dpi=250, facecolor="white")
